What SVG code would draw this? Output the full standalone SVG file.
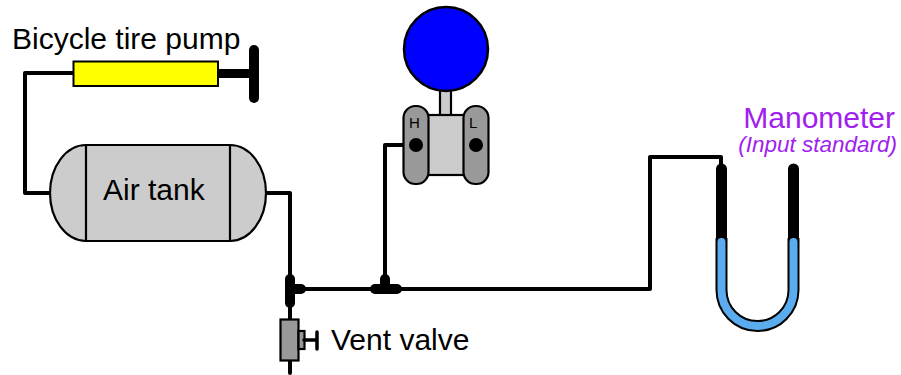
<svg xmlns="http://www.w3.org/2000/svg" width="901" height="375" viewBox="0 0 901 375">
<style>
text{font-family:"Liberation Sans",Arial,sans-serif;fill:#000}
.l{fill:none;stroke:#000;stroke-width:4;stroke-linejoin:round;stroke-linecap:round}
.t{fill:none;stroke:#000;stroke-width:10;stroke-linecap:round}
.o{stroke:#000;stroke-width:2.2}
.g{fill:#ccc}
.d{fill:#999}
</style>
<rect width="901" height="375" fill="#fff"/>
<g id="connectors">
<path class="l" d="M73 73H25V193H50"/>
<path class="l" d="M266 193H290V373"/>
<path class="l" d="M290 289H650V157H721V166"/>
<path class="l" d="M416 145H385V289"/>
<path class="t" d="M290 279V303"/>
<path class="t" d="M290 289H301"/>
<path class="t" d="M375 289H397"/>
<path class="t" d="M385 279V289"/>
</g>
<g id="pump">
<path d="M218 73.500H250" stroke="#000" stroke-width="9" fill="none"/>
<path class="t" d="M254 50V98"/>
<rect x="73.500" y="61.500" width="144.500" height="24.500" fill="#ff0" stroke="#000" stroke-width="2"/>
<text x="12" y="49" font-size="30">Bicycle tire pump</text>
</g>
<g id="tank">
<path class="g o" d="M86 145H230A36 48 0 0 1 266 193A36 48 0 0 1 230 241H86A36 48 0 0 1 50 193A36 48 0 0 1 86 145Z"/>
<path class="o" fill="none" d="M86 145V241M230 145V241"/>
<text x="103" y="200" font-size="30">Air tank</text>
</g>
<g id="transmitter">
<rect class="g o" x="440" y="90" width="11" height="26"/>
<rect class="g o" x="427" y="115" width="38" height="60"/>
<rect class="d o" x="403.500" y="106" width="25" height="78" rx="12"/>
<rect class="d o" x="463.500" y="106" width="25" height="78" rx="12"/>
<circle cx="446" cy="49" r="42" fill="#00f" stroke="#000" stroke-width="2.500"/>
<circle cx="416" cy="145" r="7"/>
<circle cx="476" cy="145" r="7"/>
<text x="409" y="128" font-size="15">H</text>
<text x="469" y="128" font-size="15">L</text>
</g>
<g id="valve">
<rect class="d o" x="280.500" y="319.500" width="18" height="41"/>
<rect class="d o" x="298.500" y="331" width="6" height="18"/>
<path d="M304 340H317M317 332V349" fill="none" stroke="#000" stroke-width="3.500" stroke-linecap="round"/>
<text x="331" y="350" font-size="30">Vent valve</text>
</g>
<g id="manometer">
<path d="M721.500 238V290A36 36 0 0 0 793.500 290V238" fill="none" stroke="#000" stroke-width="12"/>
<path d="M721.500 169V238M793.500 169V238" fill="none" stroke="#000" stroke-width="11" stroke-linecap="round"/>
<path d="M721.500 242V290A36 36 0 0 0 793.500 290V242" fill="none" stroke="#5aacee" stroke-width="8" stroke-linecap="round"/>
<text x="895" y="128" font-size="30" text-anchor="end" style="fill:#a020f0">Manometer</text>
<text x="897" y="152" font-size="22.500" font-style="italic" text-anchor="end" style="fill:#a020f0">(Input standard)</text>
</g>
</svg>
